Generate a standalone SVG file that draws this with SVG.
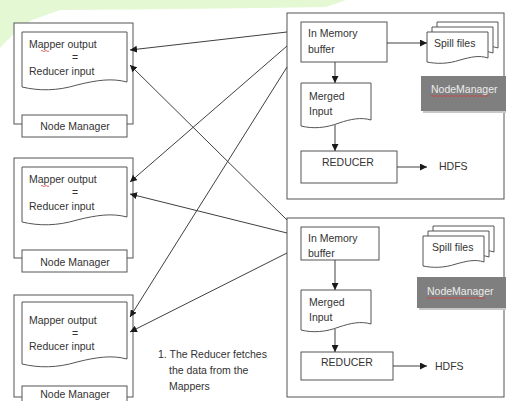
<svg xmlns="http://www.w3.org/2000/svg" width="506" height="401" viewBox="0 0 506 401">
  <style>
    .box { fill: #ffffff; stroke: #555555; stroke-width: 1; }
    .doc { fill: #ffffff; stroke: #555555; stroke-width: 1; }
    .gray { fill: #7f7f7f; stroke: none; }
    .shadow { fill: #c8c8c8; stroke: none; }
    .t { font-family: "Liberation Sans", Arial, sans-serif; font-size: 10.5px; fill: #333333; }
    .tc { text-anchor: middle; }
    .tw { font-family: "Liberation Sans", Arial, sans-serif; font-size: 10.5px; fill: #ececec; }
    .link { fill: none; stroke: #404040; stroke-width: 1; marker-end: url(#arrow); }
    .squiggle { fill: none; stroke: #d04040; stroke-width: 0.8; }
  </style>
  <defs>
    <marker id="arrow" markerWidth="7" markerHeight="7" refX="7" refY="3.5" orient="auto" markerUnits="userSpaceOnUse">
      <path d="M0,0 L7,3.5 L0,7 Z" fill="#1a1a1a"/>
    </marker>
    <!-- document shapes with a wavy bottom edge -->
    <path id="mapDoc" d="M0,0 H105 V50 C90,46 75,48 55,53 C35,59 17,59 0,55 Z"/>
    <path id="mapDocTall" d="M0,0 H105 V57 C90,53 75,55 55,60 C35,66 17,66 0,62 Z"/>
    <path id="mergeDoc" d="M0,0 H70 V37 C60,34 50,36 38,40 C25,45 12,46 0,43 Z"/>
    <path id="mergeDocShort" d="M0,0 H70 V34 C60,31 50,33 38,37 C25,42 12,43 0,40 Z"/>
    <path id="spillDoc" d="M0,0 H61 V26 C52,23 44,25 33,28 C21,32 10,32 0,30 Z"/>
  </defs>

  <!-- pale green band along the top edge -->
  <path d="M0,0 H346 L326,7 Q200,9 60,10 L32,20 Q12,34 0,48 Z" fill="#e4f8d4"/>

  <!-- mapper node 1 -->
  <g id="mapper1">
    <rect class="box" x="14" y="23" width="119" height="101"/>
    <use href="#mapDoc" class="doc" x="22" y="32"/>
    <text class="t" x="29" y="48">Mapper output</text>
    <path class="squiggle" d="M41,51 q1,-1 2,0 t2,0 t2,0 t2,0"/>
    <text class="t tc" x="75" y="61">=</text>
    <text class="t" x="29" y="75">Reducer input</text>
    <rect class="box" x="22" y="115" width="105" height="22"/>
    <text class="t tc" x="75" y="130">Node Manager</text>
  </g>

  <!-- mapper node 2 -->
  <g id="mapper2">
    <rect class="box" x="14" y="158" width="119" height="100"/>
    <use href="#mapDoc" class="doc" x="22" y="167"/>
    <text class="t" x="29" y="183">Mapper output</text>
    <path class="squiggle" d="M41,186 q1,-1 2,0 t2,0 t2,0 t2,0"/>
    <text class="t tc" x="75" y="196">=</text>
    <text class="t" x="29" y="210">Reducer input</text>
    <rect class="box" x="22" y="250" width="105" height="22"/>
    <text class="t tc" x="75" y="266">Node Manager</text>
  </g>

  <!-- mapper node 3 -->
  <g id="mapper3">
    <rect class="box" x="14" y="295" width="119" height="102"/>
    <use href="#mapDocTall" class="doc" x="22" y="302"/>
    <text class="t" x="29" y="324">Mapper output</text>
    <text class="t tc" x="75" y="337">=</text>
    <text class="t" x="29" y="350">Reducer input</text>
    <rect class="box" x="22" y="386" width="105" height="22"/>
    <text class="t tc" x="75" y="398">Node Manager</text>
  </g>

  <!-- reducer node 1 -->
  <g id="reducer1">
    <rect class="box" x="287" y="13" width="217" height="186"/>
    <rect class="box" x="301" y="22" width="86" height="40"/>
    <text class="t" x="308" y="37">In Memory</text>
    <text class="t" x="308" y="53">buffer</text>
    <use href="#spillDoc" class="doc" x="437" y="22"/>
    <use href="#spillDoc" class="doc" x="432" y="27"/>
    <use href="#spillDoc" class="doc" x="427" y="32"/>
    <text class="t" x="434" y="47">Spill files</text>
    <rect class="shadow" x="423" y="78" width="83" height="35"/>
    <rect class="gray" x="421" y="76" width="85" height="35"/>
    <text class="tw" x="431" y="93">NodeManager</text>
    <path class="squiggle" d="M431,96 q1,-1 2,0 t2,0 t2,0 t2,0 t2,0 t2,0 t2,0 t2,0 t2,0 t2,0 t2,0 t2,0 t2,0 t2,0 t2,0 t2,0 t2,0 t2,0 t2,0 t2,0 t2,0 t2,0 t2,0 t2,0 t2,0 t2,0 t2,0 t2,0 t2,0"/>
    <use href="#mergeDoc" class="doc" x="301" y="83"/>
    <text class="t" x="309" y="100">Merged</text>
    <text class="t" x="309" y="115">Input</text>
    <rect class="box" x="301" y="151" width="96" height="32"/>
    <text class="t tc" x="348" y="166">REDUCER</text>
    <text class="t" x="439" y="170">HDFS</text>
    <path class="link" d="M387,43 H427"/>
    <path class="link" d="M335,62 V83"/>
    <path class="link" d="M335,125 V151"/>
    <path class="link" d="M397,167 H427"/>
  </g>

  <!-- reducer node 2 -->
  <g id="reducer2">
    <rect class="box" x="287" y="218" width="217" height="179"/>
    <rect class="box" x="301" y="227" width="78" height="33"/>
    <text class="t" x="308" y="242">In Memory</text>
    <text class="t" x="308" y="257">buffer</text>
    <use href="#spillDoc" class="doc" x="433" y="226"/>
    <use href="#spillDoc" class="doc" x="428" y="231"/>
    <use href="#spillDoc" class="doc" x="423" y="236"/>
    <text class="t" x="432" y="251">Spill files</text>
    <rect class="shadow" x="419" y="279" width="87" height="31"/>
    <rect class="gray" x="417" y="277" width="89" height="31"/>
    <text class="tw" x="427" y="295">NodeManager</text>
    <path class="squiggle" d="M427,298 q1,-1 2,0 t2,0 t2,0 t2,0 t2,0 t2,0 t2,0 t2,0 t2,0 t2,0 t2,0 t2,0 t2,0 t2,0 t2,0 t2,0 t2,0 t2,0 t2,0 t2,0 t2,0 t2,0 t2,0 t2,0 t2,0 t2,0 t2,0 t2,0 t2,0"/>
    <use href="#mergeDocShort" class="doc" x="301" y="290"/>
    <text class="t" x="309" y="306">Merged</text>
    <text class="t" x="309" y="321">Input</text>
    <rect class="box" x="301" y="352" width="92" height="28"/>
    <text class="t tc" x="347" y="366">REDUCER</text>
    <text class="t" x="435" y="370">HDFS</text>
    <path class="link" d="M335,260 V290"/>
    <path class="link" d="M335,329 V352"/>
    <path class="link" d="M393,366 H427"/>
  </g>

  <!-- fetch connectors from reducers to mapper outputs -->
  <g id="connectors">
    <path class="link" d="M287,32 L130,50"/>
    <path class="link" d="M287,46 L130,182"/>
    <path class="link" d="M287,67 L130,317"/>
    <path class="link" d="M287,220 L130,65"/>
    <path class="link" d="M287,233 L130,194"/>
    <path class="link" d="M287,253 L130,332"/>
  </g>

  <g id="note">
    <text class="t" x="158" y="358">1. The Reducer fetches</text>
    <text class="t" x="169" y="374">the data from the</text>
    <text class="t" x="169" y="390">Mappers</text>
  </g>
</svg>
